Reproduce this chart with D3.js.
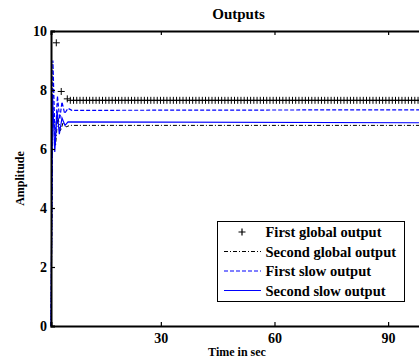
<!DOCTYPE html>
<html><head><meta charset="utf-8">
<script src="https://cdn.jsdelivr.net/npm/d3@7"></script>
<style>body{margin:0;background:#fff}svg{display:block}text{font-family:"Liberation Serif","Times New Roman",serif;font-weight:bold}</style>
</head><body><div id="chart"></div>
<script>
// Data
const xTicks = [30, 60, 90];
const yTicks = [0, 2, 4, 6, 8, 10];
const legendLabels = ["First global output", "Second global output", "First slow output", "Second slow output"];
// First global output: markers only (transient points + steady value)
const firstGlobalTransient = [[2.4, 9.6], [3.7, 7.95], [5.3, 7.7]];
const firstGlobalSteady = 7.65;
const firstGlobalStart = 6.1, firstGlobalStep = 0.85, tEnd = 100;
// Second global output (black dash-dot)
const secondGlobalT = [1, 1.5, 2.2, 2.8, 3.5, 4.2, 5.0, 6.0, 100];
const secondGlobalV = [0, 7.4, 6.1, 7.1, 6.6, 6.9, 6.75, 6.8, 6.8];
// First slow output (blue dashed)
const firstSlowT = [1, 1.5, 2.1, 2.7, 3.3, 3.9, 4.6, 5.5, 6.5, 100];
const firstSlowV = [0, 9.0, 6.2, 7.8, 7.0, 7.6, 7.2, 7.38, 7.31, 7.33];
// Second slow output (blue solid)
const secondSlowT = [1, 1.4, 2.0, 2.6, 3.2, 3.9, 4.7, 5.5, 100];
const secondSlowV = [0, 7.8, 5.9, 7.3, 6.5, 7.05, 6.8, 6.92, 6.89];

const W = 419, H = 361;
const svg = d3.select("#chart").append("svg").attr("width", W).attr("height", H);
const x = d3.scaleLinear().domain([1, 100]).range([51, 426]);
const y = d3.scaleLinear().domain([0, 10]).range([326, 31]);

const zip = (t, v) => t.map((d, i) => [d, v[i]]);
const line = d3.line().x(d => x(d[0])).y(d => y(d[1]));

const g = svg.append("g");
// second global
g.append("path").datum(zip(secondGlobalT, secondGlobalV)).attr("d", line)
  .attr("fill", "none").attr("stroke", "#000").attr("stroke-width", 1).attr("stroke-dasharray", "4,2,1,2");
// first global markers
const fgPts = firstGlobalTransient.concat(d3.range(firstGlobalStart, tEnd + 0.01, firstGlobalStep).map(t => [t, firstGlobalSteady]));
g.selectAll("path.fg").data(fgPts).enter().append("path").attr("class", "fg")
  .attr("d", d => `M${x(d[0]) - 3.5},${y(d[1])}h7M${x(d[0])},${y(d[1]) - 3.5}v7`)
  .attr("stroke", "#000").attr("stroke-width", 1).attr("fill", "none");
// first slow
g.append("path").datum(zip(firstSlowT, firstSlowV)).attr("d", line)
  .attr("fill", "none").attr("stroke", "#0000ff").attr("stroke-width", 1.2).attr("stroke-dasharray", "4,2");
// second slow
g.append("path").datum(zip(secondSlowT, secondSlowV)).attr("d", line)
  .attr("fill", "none").attr("stroke", "#0000ff").attr("stroke-width", 1.2);

// axes
const xAxB = svg.append("g").attr("transform", `translate(0,${y(0)})`)
  .call(d3.axisBottom(x).tickValues(xTicks).tickSize(-4).tickPadding(7));
const xAxT = svg.append("g").attr("transform", `translate(0,${y(10)})`)
  .call(d3.axisTop(x).tickValues(xTicks).tickSize(-4).tickFormat(""));
const yAx = svg.append("g").attr("transform", `translate(${x(1)},0)`)
  .call(d3.axisLeft(y).tickValues(yTicks).tickSize(-4).tickPadding(4));
[xAxB, xAxT, yAx].forEach(a => {
  a.select(".domain").attr("stroke", "#000").attr("stroke-width", 2);
  a.selectAll(".tick line").attr("stroke", "#000").attr("stroke-width", 1.2);
  a.selectAll("text").attr("fill", "#000").style("font-size", "14px").style("font-family", '"Liberation Serif",serif').style("font-weight", "bold");
});
yAx.selectAll(".tick text").attr("dy", "0.35em");

// title & labels
svg.append("text").attr("x", 238.5).attr("y", 19).attr("text-anchor", "middle").style("font-size", "15px").text("Outputs");
svg.append("text").attr("x", 237).attr("y", 356).attr("text-anchor", "middle").style("font-size", "12px").text("Time in sec");
svg.append("text").attr("transform", `translate(20,${(y(0) + y(10)) / 2}) rotate(-90)`).attr("text-anchor", "middle").attr("dy", "0.35em").style("font-size", "12px").text("Amplitude");

// legend
const lg = svg.append("g");
lg.append("rect").attr("x", 217.5).attr("y", 221.5).attr("width", 187).attr("height", 80)
  .attr("fill", "#fff").attr("stroke", "#000").attr("stroke-width", 1);
const rows = [232, 251.5, 271, 290.5];
const styles = [
  {type: "marker"},
  {stroke: "#000", dash: "4,2,1,2", w: 1},
  {stroke: "#0000ff", dash: "4,2", w: 1.2},
  {stroke: "#0000ff", dash: null, w: 1.2}
];
legendLabels.forEach((lab, i) => {
  const yy = rows[i];
  const s = styles[i];
  if (s.type === "marker") {
    lg.append("path").attr("d", `M${242 - 3.5},${yy}h7M${242},${yy - 3.5}v7`).attr("stroke", "#000").attr("stroke-width", 1.2);
  } else {
    lg.append("line").attr("x1", 224).attr("x2", 261).attr("y1", yy).attr("y2", yy)
      .attr("stroke", s.stroke).attr("stroke-width", s.w).attr("stroke-dasharray", s.dash);
  }
  lg.append("text").attr("x", 265.5).attr("y", yy).attr("dy", "0.35em").style("font-size", "14.5px").text(lab);
});
</script></body></html>
